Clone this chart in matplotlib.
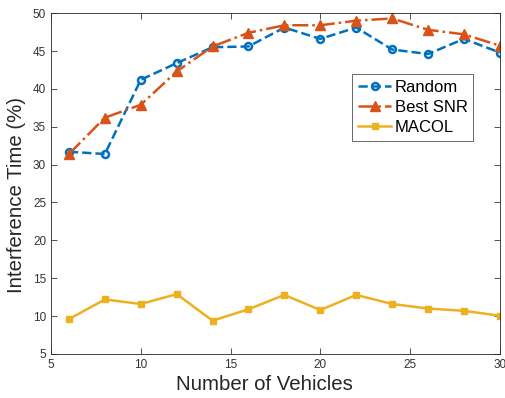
import matplotlib
matplotlib.use("Agg")
import matplotlib.pyplot as plt

vehicles = [6, 8, 10, 12, 14, 16, 18, 20, 22, 24, 26, 28, 30]
random_vals = [31.7, 31.4, 41.2, 43.4, 45.5, 45.6, 48.1, 46.6, 48.1, 45.2, 44.6, 46.6, 44.8]
best_snr_vals = [31.4, 36.2, 37.9, 42.3, 45.6, 47.4, 48.4, 48.4, 49.0, 49.3, 47.8, 47.2, 45.7]
macol_vals = [9.6, 12.2, 11.6, 12.9, 9.4, 10.9, 12.8, 10.8, 12.8, 11.6, 11.0, 10.7, 10.05]

xticks = [5, 10, 15, 20, 25, 30]
yticks = [5, 10, 15, 20, 25, 30, 35, 40, 45, 50]

plt.rcParams['font.family'] = ['Liberation Sans', 'DejaVu Sans']

fig = plt.figure(figsize=(5.06, 3.98), dpi=100)
ax = fig.add_axes([0.1008, 0.1106, 0.887, 0.8564])

c1, c2, c3 = '#0072BD', '#D95319', '#EDB120'
ax.plot(vehicles, random_vals, linestyle='--', color=c1, lw=1.8, marker='o',
        markersize=5, markerfacecolor='none', markeredgewidth=1.8, label='Random')
ax.plot(vehicles, best_snr_vals, linestyle='-.', color=c2, lw=1.8, marker='^',
        markersize=6.5, markerfacecolor=c2, markeredgewidth=1.0, label='Best SNR')
ax.plot(vehicles, macol_vals, linestyle='-', color=c3, lw=1.8, marker='s',
        markersize=4.8, markerfacecolor=c3, markeredgewidth=1.0, label='MACOL')

ax.set_xlim(5, 30)
ax.set_ylim(5, 50)
ax.set_xticks(xticks)
ax.set_yticks(yticks)
ax.tick_params(direction='in', top=True, right=True, labelsize=8.5, colors='#333333',
               length=4, width=0.6)
for s in ax.spines.values():
    s.set_color('#262626')
    s.set_linewidth(0.6)

ax.set_xlabel('Number of Vehicles', fontsize=14.7, color='#262626')
ax.set_ylabel('Interference Time (%)', fontsize=14.7, color='#262626')
ax.xaxis.set_label_coords(0.475, -0.062)
ax.yaxis.set_label_coords(-0.056, 0.466)

leg = ax.legend(loc='upper left', bbox_to_anchor=(0.671, 0.82), fontsize=12,
                frameon=True, fancybox=False, edgecolor='#262626',
                handlelength=2.0, handletextpad=0.2, borderpad=0.35,
                labelspacing=0.3, borderaxespad=0)
leg.get_frame().set_linewidth(0.6)

fig.savefig('out.png', dpi=100)
